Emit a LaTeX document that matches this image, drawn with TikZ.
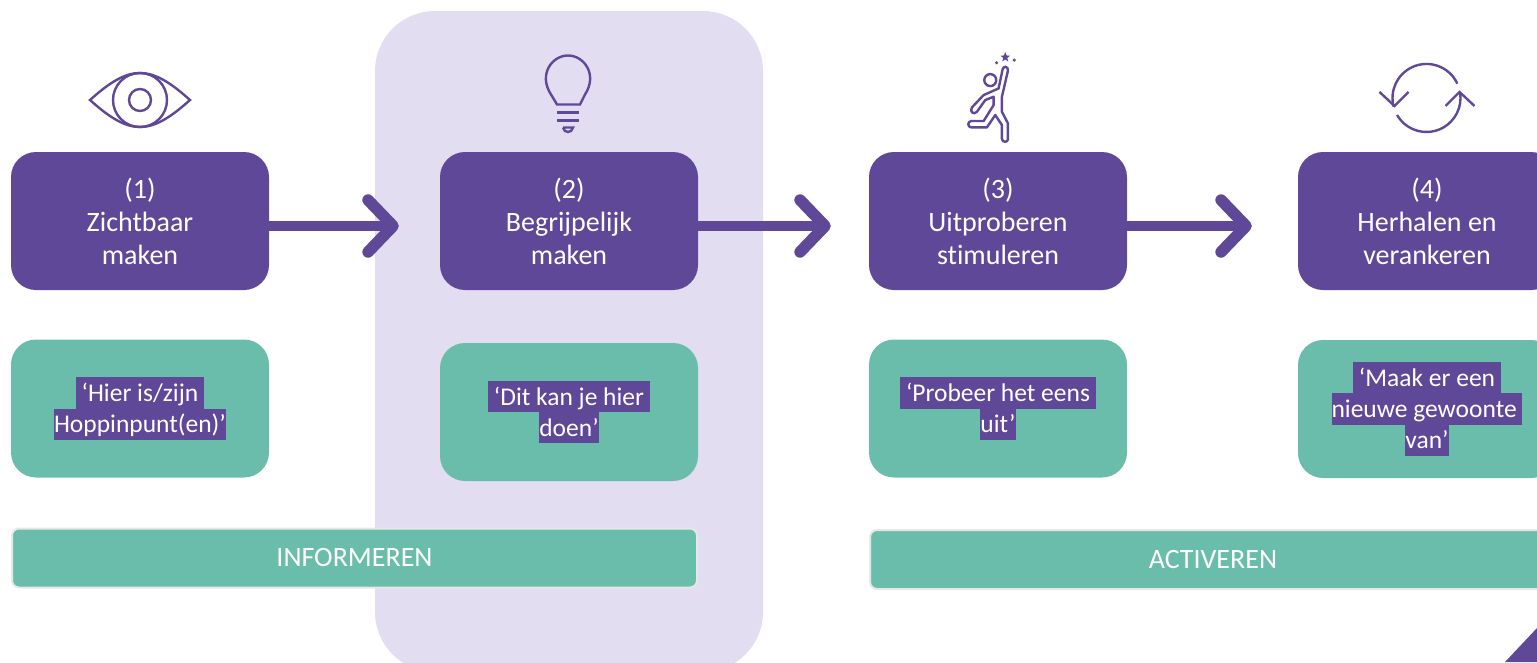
\documentclass[tikz,border=0pt]{standalone}
\usepackage{fontspec}
\setmainfont[Ligatures={NoCommon}]{Carlito}
\usetikzlibrary{arrows.meta}
\definecolor{hoppurple}{HTML}{604898}
\definecolor{hopgreen}{HTML}{6BBDAB}
\definecolor{hoplilac}{HTML}{E3DDF2}
\definecolor{hopedge}{HTML}{E6E8E6}
\setlength{\fboxsep}{0pt}
\lineskiplimit=-2pt
\newcommand{\hilite}[1]{\colorbox{hoppurple}{\rule[-7pt]{0pt}{31.3pt}#1}}
\newcommand{\eyeicon}[2]{%
 \node [icon] ({#1}) at ({#2}) {%
  \begin{tikzpicture}[x=1pt,y=-1pt]%
   \draw [iconline] (-50,0) .. controls (-30,-18) and (-15,-27) .. (0,-27) .. controls (15,-27) and (30,-18) .. (50,0) .. controls (30,18) and (15,27) .. (0,27) .. controls (-15,27) and (-30,18) .. (-50,0) -- cycle;%
   \draw [iconline] (0,0) circle (27);%
   \draw [iconline] (0,0) circle (11);%
  \end{tikzpicture}%
 } %
}
\newcommand{\bulbicon}[2]{%
 \node [icon] ({#1}) at ({#2}) {%
  \begin{tikzpicture}[x=1pt,y=-1pt]%
   \draw [iconline] (-11,25) -- (-17,15) .. controls (-30,-5) and (-16,-24) .. (0,-24) .. controls (16,-24) and (30,-5) .. (17,15) -- (12,25) -- cycle;%
   \draw [iconline] (-11,33) -- (11,33);%
   \draw [iconline] (-11,41) -- (11,41);%
   \draw [iconline] (-5,48) -- (5,48) .. controls (4,54) and (-4,54) .. (-5,48);%
  \end{tikzpicture}%
 } %
}
\newcommand{\runnericon}[2]{%
 \node [icon] ({#1}) at ({#2}) {%
  \begin{tikzpicture}[x=.333pt,y=-.333pt]%
   \draw [iconline,line join=round] (150,170) -- (150,215) -- (168,250) -- (168,298) .. controls (168,308) and (150,308) .. (150,296) -- (150,255) -- (130,225) -- (105,262) -- (58,262) .. controls (46,262) and (46,243) .. (58,243) -- (95,243) -- (125,195) -- (125,170) -- (100,180) -- (75,215) .. controls (65,226) and (52,215) .. (60,202) -- (95,165) -- (140,145) -- (152,88) .. controls (154,76) and (170,78) .. (168,92) -- cycle;%
   \draw [iconline] (115,120) circle (18);%
   \fill [hoppurple] (160,36) -- (164,46) -- (174,47) -- (166,54) -- (169,64) -- (160,58) -- (151,64) -- (154,54) -- (146,47) -- (156,46) -- cycle;%
   \fill [hoppurple] (134,68) circle (5);%
   \fill [hoppurple] (187,60) circle (5);%
  \end{tikzpicture}%
 } %
}
\newcommand{\refreshicon}[2]{%
 \node [icon] ({#1}) at ({#2}) {%
  \begin{tikzpicture}[x=1pt,y=1pt]%
   \draw [iconline] (25:34) arc [start angle=25,end angle=195,radius=34];%
   \draw [iconline] (210:34) arc [start angle=210,end angle=368,radius=34];%
   \draw [iconline] (-47,6) -- (-32,-8) -- (-18,6);%
   \draw [iconline] (19,-8) -- (33,6) -- (48,-8);%
  \end{tikzpicture}%
 } %
}
\tikzset{
 icon/.style={inner sep=0pt,outer sep=0pt},
 iconline/.style={draw=hoppurple,line width=2.4pt},
 stepbox/.style={fill=hoppurple,rounded corners=25pt,minimum width=258pt,minimum height=138pt,inner sep=0pt,text=white,align=center,font=\fontsize{28}{33}\selectfont},
 quotebox/.style={fill=hopgreen,rounded corners=25pt,minimum width=258pt,minimum height=138pt,inner sep=0pt,text=white,align=center,font=\fontsize{25.5}{31.3}\selectfont},
 phasebar/.style={fill=hopgreen,draw=hopedge,line width=2pt,rounded corners=7pt,minimum height=59pt,inner sep=0pt,text=white,font=\fontsize{28}{30}\selectfont},
 steparrow/.style={draw=hoppurple,line width=10pt,-{Straight Barb[round,length=25pt,width=52pt,line width=11.5pt]}},
}
\begin{document}
\begin{tikzpicture}[x=1pt,y=-1pt]
 \useasboundingbox (0,0) rectangle (1537,662);
 \clip (0,0) rectangle (1537,662);
 \fill [hoplilac,rounded corners=60pt] (375,11) rectangle (763,672);
 \fill [hoppurple] (1505,662) -- (1537,628) -- (1537,662) -- cycle;
 \eyeicon{eye}{140,100};
 \bulbicon{bulb}{568,94.5};
 \runnericon{runner}{991,98};
 \refreshicon{refresh}{1427,98};
 \node [stepbox] (s1) at (140,221) {(1)\\Zichtbaar\\maken};
 \node [stepbox] (s2) at (569,221) {(2)\\Begrijpelijk\\maken};
 \node [stepbox] (s3) at (998,221) {(3)\\Uitproberen\\stimuleren};
 \node [stepbox] (s4) at (1427,221) {(4)\\Herhalen en\\verankeren};
 \draw [steparrow,shorten >=41pt] ([yshift=-5pt]s1.east) -- ([yshift=-5pt]s2.west);
 \draw [steparrow,shorten >=38pt] ([yshift=-5pt]s2.east) -- ([yshift=-5pt]s3.west);
 \draw [steparrow,shorten >=46pt] ([yshift=-5pt]s3.east) -- ([yshift=-5pt]s4.west);
 \node [quotebox] (q1) at (140,408.5) {\raisebox{-1.3pt}{\hilite{\ ‘Hier is/zijn\ }}\\\raisebox{-1.3pt}{\hilite{Hoppinpunt(en)’}}};
 \node [quotebox] (q2) at (569,412) {\raisebox{-1.3pt}{\hilite{\ ‘Dit kan je hier\ }}\\\raisebox{-1.3pt}{\hilite{doen’}}};
 \node [quotebox] (q3) at (998,408.5) {\raisebox{-1.3pt}{\hilite{\ ‘Probeer het eens\ }}\\\raisebox{-1.3pt}{\hilite{uit’}}};
 \node [quotebox] (q4) at (1427,409) {\raisebox{-1.3pt}{\hilite{\ ‘Maak er een\ }}\\\raisebox{-1.3pt}{\hilite{nieuwe gewoonte\ }}\\\raisebox{-1.3pt}{\hilite{van’}}};
 \node [phasebar,minimum width=685pt] (informeren) at (354.5,558) {\raisebox{-1pt}{INFORMEREN}};
 \node [phasebar,minimum width=686pt] (activeren) at (1213,559.5) {\raisebox{-1.5pt}{ACTIVEREN}};
\end{tikzpicture}
\end{document}
